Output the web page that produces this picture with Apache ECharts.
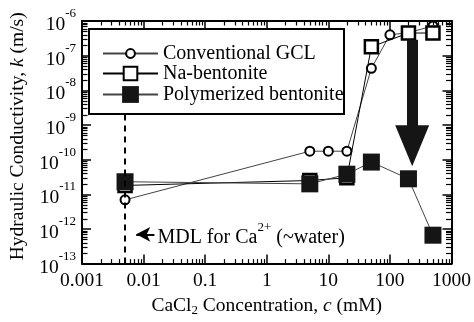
<!DOCTYPE html>
<html><head><meta charset="utf-8">
<script src="https://cdn.jsdelivr.net/npm/echarts@6/dist/echarts.min.js"></script>
<style>html,body{margin:0;padding:0;background:#fff}#c{width:474px;height:322px}</style>
</head><body><div id="c"></div>
<script>
const seriesNames = ['Conventional GCL', 'Na-bentonite', 'Polymerized bentonite'];
const gclX = [0.005, 5, 10, 20, 50, 100, 200, 500];
const gclY = [6.9e-12, 1.75e-10, 1.75e-10, 1.75e-10, 4.3e-8, 4.0e-7, 4.6e-7, 7.2e-7];
const naX = [0.005, 5, 20, 50, 200, 500];
const naY = [1.8e-11, 2.5e-11, 3.0e-11, 1.8e-7, 4.5e-7, 4.5e-7];
const polyX = [0.005, 5, 20, 50, 200, 500];
const polyY = [2.3e-11, 2.0e-11, 3.8e-11, 8.5e-11, 2.8e-11, 6.6e-13];
const xTickLabels = ['0.001', '0.01', '0.1', '1', '10', '100', '1000'];
const yTickExponents = ['-13', '-12', '-11', '-10', '-9', '-8', '-7', '-6'];
const xRange = [0.001, 1000];
const yRange = [1e-13, 1e-6];
const mdlX = 0.005;
const mdlTop = 2.2e-9;
const mdlArrowY = 7e-13;
const mdlArrowFrom = 0.015;
const mdlArrowTo = 0.0076;
const bigArrowX = 230;
const bigArrowFrom = 2.9e-7;
const bigArrowTo = 2.5e-10;

const FONT = 'Liberation Serif';
const FS = 19.5;
const chart = echarts.init(document.getElementById('c'), null, {renderer: 'canvas'});

function pairs(xs, ys) { return xs.map((x, i) => [x, ys[i]]); }

// minor tick positions (2..9 within each decade) for the log axes
function minorValues(lo, hi) {
  const out = [];
  for (let e = Math.round(Math.log10(lo)); e < Math.round(Math.log10(hi)); e++) {
    for (let m = 2; m <= 9; m++) out.push(m * Math.pow(10, e));
  }
  return out;
}
const xMinor = minorValues(xRange[0], xRange[1]);
const yMinor = minorValues(yRange[0], yRange[1]);

function axisBase() {
  return {
    type: 'log', logBase: 10,
    axisLine: {show: true, onZero: false, lineStyle: {color: '#000', width: 2}},
    axisTick: {show: true, inside: true, length: 9, lineStyle: {color: '#000', width: 1.5}},
    splitLine: {show: false}
  };
}

const xBottom = Object.assign(axisBase(), {
  position: 'bottom', min: xRange[0], max: xRange[1],
  axisLabel: {
    show: true, margin: 7, color: '#000', fontSize: FS, fontFamily: FONT,
    formatter: v => xTickLabels[Math.round(Math.log10(v)) + 3]
  },
  name: '{n|CaCl}{sub|2}{n| Concentration, }{i|c}{n| (mM)}',
  nameLocation: 'middle', nameGap: 28,
  nameTextStyle: {
    color: '#000', fontSize: FS, fontFamily: FONT,
    rich: {
      n: {fontSize: FS, fontFamily: FONT, color: '#000'},
      i: {fontSize: FS, fontFamily: FONT, color: '#000', fontStyle: 'italic'},
      sub: {fontSize: 13, fontFamily: FONT, color: '#000', verticalAlign: 'bottom', padding: [10, 0, 0, 0]}
    }
  }
});
const xTop = Object.assign(axisBase(), {position: 'top', min: xRange[0], max: xRange[1], axisLabel: {show: false}});

const yLeft = Object.assign(axisBase(), {
  position: 'left', min: yRange[0], max: yRange[1],
  axisLabel: {
    show: true, margin: 6, color: '#000', fontSize: FS, fontFamily: FONT,
    formatter: v => '{b|10}{s|' + yTickExponents[Math.round(Math.log10(v)) + 13] + '}',
    rich: {
      b: {fontSize: FS, fontFamily: FONT, color: '#000', padding: [8, 0, 0, 0]},
      s: {fontSize: 13, fontFamily: FONT, color: '#000', verticalAlign: 'top'}
    }
  },
  name: 'Hydraulic Conductivity, {i|k} (m/s)',
  nameLocation: 'middle', nameGap: 51,
  nameTextStyle: {
    color: '#000', fontSize: FS, fontFamily: FONT, padding: [0, 0, 0, 12],
    rich: {
      i: {fontSize: FS, fontFamily: FONT, color: '#000', fontStyle: 'italic'}
    }
  }
});
const yRight = Object.assign(axisBase(), {position: 'right', min: yRange[0], max: yRange[1], axisLabel: {show: false}});

const legendText = {fontSize: 20, fontFamily: FONT, color: '#000'};
function legendFor(name, centerY, h) {
  return {
    data: [name], left: 102, top: centerY - h / 2, orient: 'vertical',
    itemWidth: 55, itemHeight: h, itemGap: 0, padding: 0, selectedMode: false,
    textStyle: legendText, z: 20
  };
}

const legendBox = {
  type: 'rect', z: 10, silent: true,
  shape: {x: 89, y: 29, width: 255, height: 85},
  style: {fill: '#fff', stroke: '#000', lineWidth: 2}
};

chart.setOption({
  animation: false,
  backgroundColor: '#fff',
  grid: {left: 82, right: 20, top: 21, bottom: 55, containLabel: false},
  xAxis: [xBottom, xTop],
  yAxis: [yLeft, yRight],
  legend: [
    legendFor(seriesNames[0], 49, 11),
    legendFor(seriesNames[1], 72, 17),
    legendFor(seriesNames[2], 95, 21)
  ],
  graphic: [legendBox],
  series: [
    {
      name: seriesNames[0], type: 'line', data: pairs(gclX, gclY),
      symbol: 'circle', symbolSize: 9, z: 2,
      lineStyle: {color: '#444', width: 1},
      itemStyle: {color: '#fff', borderColor: '#000', borderWidth: 2}
    },
    {
      name: seriesNames[1], type: 'line', data: pairs(naX, naY),
      symbol: 'rect', symbolSize: 13, z: 3,
      lineStyle: {color: '#000', width: 1},
      itemStyle: {color: '#fff', borderColor: '#000', borderWidth: 2.5}
    },
    {
      name: seriesNames[2], type: 'line', data: pairs(polyX, polyY),
      symbol: 'rect', symbolSize: 17, z: 4,
      lineStyle: {color: '#444', width: 1},
      itemStyle: {color: '#151515', borderColor: '#151515', borderWidth: 0},
      markLine: {
        silent: true, animation: false,
        data: [
          [
            {coord: [mdlX, yRange[0]], symbol: 'none', lineStyle: {color: '#000', width: 2, type: [6, 5]}, label: {show: false}},
            {coord: [mdlX, mdlTop], symbol: 'none'}
          ],
          [
            {coord: [mdlArrowFrom, mdlArrowY], symbol: 'none', lineStyle: {color: '#000', width: 2, type: 'solid'},
             label: {show: true, position: 'start', distance: 3, color: '#000', fontSize: 20, fontFamily: FONT,
               formatter: '{n|MDL for Ca}{sup|2+}{n| (~water)}',
               rich: {
                 n: {fontSize: 20, fontFamily: FONT, color: '#000', padding: [6, 0, 0, 0]},
                 sup: {fontSize: 13, fontFamily: FONT, color: '#000', verticalAlign: 'top'}
               }}},
            {coord: [mdlArrowTo, mdlArrowY], symbol: 'arrow', symbolSize: [11, 14]}
          ],
          [
            {coord: [bigArrowX, bigArrowFrom], symbol: 'none', lineStyle: {color: '#151515', width: 11, type: 'solid'}, label: {show: false}},
            {coord: [bigArrowX, bigArrowTo], symbol: 'triangle', symbolSize: [34, 41]}
          ]
        ]
      }
    }
  ]
});

// minor ticks on all four sides, positioned through the axes' own scales
const MINOR_LEN = 4.5;
const toPx = p => chart.convertToPixel({xAxisIndex: 0, yAxisIndex: 0}, p);
const bl = toPx([xRange[0], yRange[0]]);
const tr = toPx([xRange[1], yRange[1]]);
const tickEls = [];
const tickStyle = {stroke: '#000', lineWidth: 1.2};
xMinor.forEach(v => {
  const px = Math.round(toPx([v, yRange[0]])[0]) + 0.5;
  tickEls.push({type: 'line', silent: true, z: 5, shape: {x1: px, y1: bl[1], x2: px, y2: bl[1] - MINOR_LEN}, style: tickStyle});
  tickEls.push({type: 'line', silent: true, z: 5, shape: {x1: px, y1: tr[1], x2: px, y2: tr[1] + MINOR_LEN}, style: tickStyle});
});
yMinor.forEach(v => {
  const py = Math.round(toPx([xRange[0], v])[1]) + 0.5;
  tickEls.push({type: 'line', silent: true, z: 5, shape: {x1: bl[0], y1: py, x2: bl[0] + MINOR_LEN + 1, y2: py}, style: tickStyle});
  tickEls.push({type: 'line', silent: true, z: 5, shape: {x1: tr[0], y1: py, x2: tr[0] - MINOR_LEN - 1, y2: py}, style: tickStyle});
});
chart.setOption({graphic: [legendBox].concat(tickEls)});
</script></body></html>
